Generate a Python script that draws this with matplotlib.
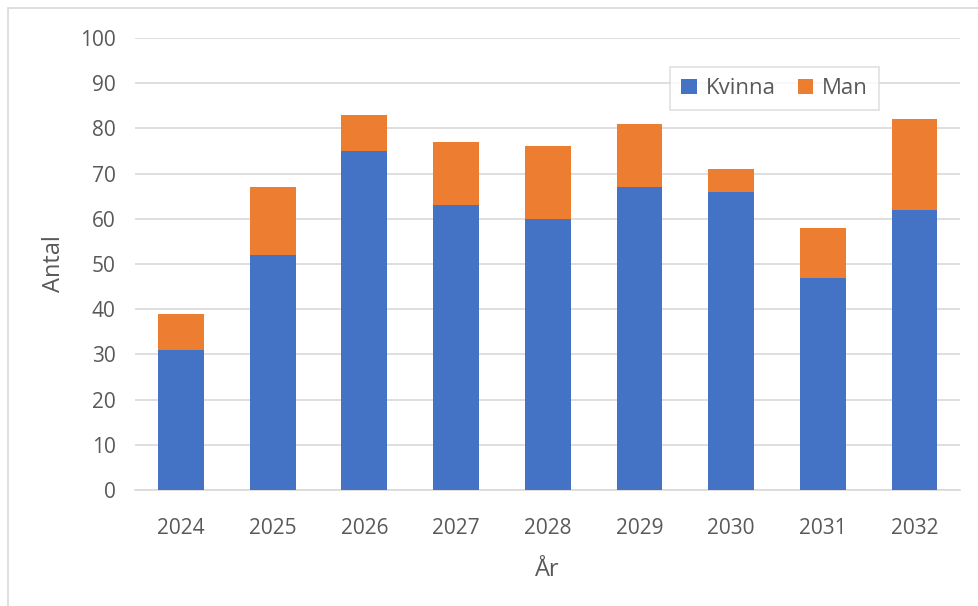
import matplotlib.pyplot as plt
from matplotlib.patches import Rectangle
import numpy as np

plt.rcParams['font.family'] = ['Open Sans', 'DejaVu Sans']

years = ['2024', '2025', '2026', '2027', '2028', '2029', '2030', '2031', '2032']
kvinna = [31, 52, 75, 63, 60, 67, 66, 47, 62]
man = [8, 15, 8, 14, 16, 14, 5, 11, 20]

BLUE = '#4472C4'
ORANGE = '#ED7D31'
TXT = '#595959'

fig = plt.figure(figsize=(9.79, 6.06), dpi=100)
ax = fig.add_axes([0.138, 0.1914, 0.843, 0.7459])

# chart border (Excel style)
fig.patches.append(Rectangle((8 / 979, -0.01), 1.02, 1 - 8 / 606 + 0.01,
                             transform=fig.transFigure, fill=False,
                             edgecolor='#D9D9D9', linewidth=1.2))

x = np.arange(len(years))
ax.bar(x, kvinna, width=0.5, color=BLUE, label='Kvinna', zorder=3)
ax.bar(x, man, width=0.5, bottom=kvinna, color=ORANGE, label='Man', zorder=3)

ax.set_xlim(-0.5, len(years) - 0.5)
ax.set_ylim(0, 100)
ax.set_yticks(range(0, 101, 10))
ax.set_xticks(x)
ax.set_xticklabels(years)
ax.yaxis.grid(True, color='#D9D9D9', linewidth=1.2, zorder=0)
for s in ax.spines.values():
    s.set_visible(False)
ax.spines['bottom'].set_visible(True)
ax.spines['bottom'].set_color('#D9D9D9')
ax.spines['bottom'].set_linewidth(1.2)
ax.tick_params(axis='both', length=0, labelsize=15, colors=TXT)
ax.tick_params(axis='x', pad=20)
ax.tick_params(axis='y', pad=14)

ax.set_xlabel('År', fontsize=17, color=TXT, labelpad=14)
ax.set_ylabel('Antal', fontsize=17, color=TXT, labelpad=10)

leg = ax.legend(loc='upper right', bbox_to_anchor=(0.915, 0.96), ncol=2,
                fontsize=16, frameon=True, fancybox=False, handlelength=0.7,
                handleheight=0.7, columnspacing=1.0, handletextpad=0.4,
                borderpad=0.5)
leg.get_frame().set_edgecolor('#D9D9D9')
leg.get_frame().set_linewidth(1.2)
for t in leg.get_texts():
    t.set_color(TXT)

fig.savefig('out.png', dpi=100)
